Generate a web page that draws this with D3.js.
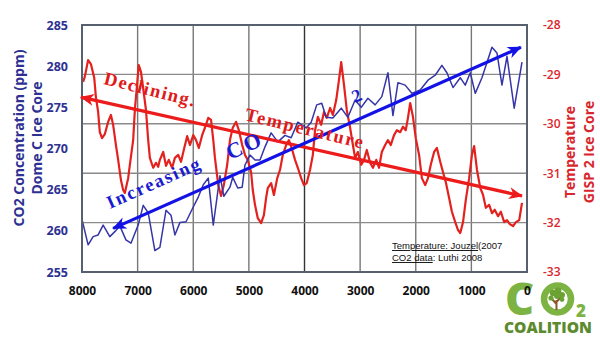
<!DOCTYPE html>
<html>
<head>
<meta charset="utf-8">
<script src="https://cdn.jsdelivr.net/npm/d3@7"></script>
<style>
  html, body { margin: 0; padding: 0; background: #fff; }
  svg { display: block; }
</style>
</head>
<body>
<svg id="chart" width="600" height="338"></svg>
<script>
// Years before present (Dome C CO2 record)
const co2Years = [8000,7890,7800,7710,7620,7500,7410,7320,7210,7120,
  6990,6900,6810,6690,6600,6490,6400,6330,6240,6130,
  6000,5910,5820,5730,5640,5520,5450,5340,5290,5200,
  5120,5070,4980,4890,4800,4710,4600,4480,4350,4240,
  4120,3970,3880,3780,3690,3610,3490,3340,3220,3090,
  2980,2860,2730,2610,2500,2410,2320,2190,2070,1920,
  1780,1650,1530,1440,1330,1200,1110,1020,930,810,
  630,540,450,360,230,90];
// CO2 concentration, ppm
const co2Values = [261.4,258.3,259.3,259.5,260.7,259.3,259.9,260.6,258.9,258.5,
  260.7,263.1,262.2,257.6,258.0,262.5,261.9,259.5,261.0,261.1,
  262.9,264.1,265.6,266.4,260.7,266.7,264.2,265.3,266.5,265.2,
  265.3,268.0,269.2,268.6,268.6,270.2,271.9,270.8,271.6,271.3,
  273.2,272.5,273.2,275.3,275.5,273.8,273.7,274.9,273.8,275.9,
  275.0,276.1,275.3,276.3,279.2,274.0,278.0,277.7,276.7,277.1,
  278.3,278.9,280.1,279.2,277.4,278.6,277.7,279.2,276.7,278.6,
  282.3,281.6,277.7,281.2,274.9,280.5];

// Years before present (GISP2 temperature record)
const tempYears = [7980,7950,7890,7840,7780,7750,7710,7680,7640,7590,
  7530,7480,7440,7390,7350,7300,7260,7230,7170,7140,
  7080,7050,7010,6980,6940,6900,6850,6810,6780,6720,
  6670,6630,6600,6540,6490,6440,6380,6330,6270,6220,
  6170,6110,6060,6000,5950,5900,5840,5790,5730,5680,
  5640,5610,5550,5500,5450,5390,5340,5290,5230,5180,
  5120,5070,5020,4960,4930,4890,4840,4780,4730,4690,
  4660,4600,4550,4490,4440,4390,4330,4280,4220,4170,
  4120,4060,4010,3960,3900,3850,3810,3760,3700,3650,
  3600,3540,3490,3430,3380,3340,3290,3240,3180,3130,
  3090,3040,2980,2930,2880,2820,2770,2710,2660,2610,
  2550,2500,2450,2390,2340,2280,2230,2180,2140,2100,
  2050,2000,1940,1890,1830,1780,1730,1670,1620,1560,
  1510,1460,1400,1350,1290,1240,1200,1150,1100,1040,
  990,950,900,840,790,740,680,630,580,520,
  470,410,360,310,250,200,140,90];
// Temperature, degrees C
const tempValues = [-29.15,-29.05,-28.71,-28.79,-29.07,-29.46,-29.76,-30.17,-30.29,-30.21,
  -29.96,-29.82,-30.02,-30.43,-30.73,-31.14,-31.34,-31.40,-31.10,-30.83,
  -30.33,-29.72,-29.21,-28.81,-28.95,-29.28,-29.72,-30.33,-30.69,-30.89,
  -30.79,-30.87,-30.73,-30.57,-30.85,-30.73,-30.89,-30.69,-30.63,-30.77,
  -30.53,-30.25,-30.43,-30.23,-30.33,-30.49,-30.23,-30.08,-29.88,-29.92,
  -30.33,-30.69,-31.24,-31.46,-31.24,-30.83,-30.33,-30.08,-29.96,-30.13,
  -30.43,-30.63,-30.73,-30.98,-31.34,-31.64,-31.91,-32.01,-31.85,-31.50,
  -31.30,-31.20,-31.44,-31.10,-30.93,-30.63,-30.43,-30.33,-30.53,-30.73,
  -30.89,-31.10,-31.24,-31.20,-30.93,-30.63,-30.13,-29.86,-30.02,-29.76,
  -29.88,-29.68,-29.82,-29.52,-29.11,-28.75,-29.21,-29.72,-30.08,-30.43,
  -30.69,-30.57,-30.83,-30.73,-30.53,-30.79,-30.89,-30.73,-30.89,-30.57,
  -30.43,-30.33,-30.43,-30.23,-30.13,-30.17,-30.06,-30.13,-29.88,-29.58,
  -29.86,-30.29,-30.63,-31.10,-31.24,-31.10,-30.83,-30.57,-30.49,-30.77,
  -30.98,-31.18,-31.50,-31.78,-31.99,-32.15,-32.21,-31.99,-31.54,-31.10,
  -30.63,-30.45,-30.93,-31.30,-31.44,-31.70,-31.64,-31.81,-31.74,-31.87,
  -31.78,-31.99,-31.95,-32.03,-32.07,-31.99,-31.95,-31.60];

// Trend arrows (start, end)
const co2TrendYears = [7440, 110];
const co2TrendValues = [260.3, 282.3];
const tempTrendYears = [8020, 90];
const tempTrendValues = [-29.46, -31.46];

// Axis ticks
const yearTicks = [8000, 7000, 6000, 5000, 4000, 3000, 2000, 1000, 0];
const co2Ticks = [255, 260, 265, 270, 275, 280, 285];
const tempTicks = [-33, -32, -31, -30, -29, -28];

const svg = d3.select("#chart");
const plotLeft = 82, plotRight = 527, plotTop = 25, plotBottom = 272;

const x = d3.scaleLinear().domain([8000, 0]).range([plotLeft, plotRight]);
const yCO2 = d3.scaleLinear().domain([255, 285]).range([plotBottom, plotTop]);
const yTemp = d3.scaleLinear().domain([-33, -28]).range([plotBottom, plotTop]);

const blueText = "#2e3192";
const redText = "#d9262c";

// ---- logo (drawn first so the "0" tick label sits on top) ----
const logo = svg.append("g").attr("class", "logo");
const lightGreen = "#7db343", darkGreen = "#5c8a2e";
logo.append("text")
  .attr("x", 505).attr("y", 315)
  .attr("font-family", "Open Sans, sans-serif").attr("font-weight", 800)
  .attr("font-size", 45).attr("fill", lightGreen)
  .text("C");
logo.append("circle")
  .attr("cx", 557.5).attr("cy", 299).attr("r", 13.5)
  .attr("fill", "none").attr("stroke", lightGreen).attr("stroke-width", 6.5);
// little tree inside the O
logo.append("path")
  .attr("d", "M556.5,310 L556.5,300 M556.5,304 L552,299 M556.5,302 L561,297")
  .attr("stroke", "#8a5a2b").attr("stroke-width", 2).attr("fill", "none");
[[553,293,3.2],[558,291,3.4],[562,295,3],[551,298,2.6],[557,296,3],[562,299.5,2.4]].forEach(([cx, cy, r]) => {
  logo.append("circle").attr("cx", cx).attr("cy", cy).attr("r", r).attr("fill", "#6aa334");
});
logo.append("text")
  .attr("x", 576).attr("y", 317)
  .attr("font-family", "Open Sans, sans-serif").attr("font-weight", 800)
  .attr("font-size", 17).attr("fill", lightGreen)
  .text("2");
logo.append("text")
  .attr("x", 504).attr("y", 333)
  .attr("font-family", "Open Sans, sans-serif").attr("font-weight", 800)
  .attr("font-size", 16.5).attr("fill", darkGreen)
  .attr("textLength", 88).attr("lengthAdjust", "spacingAndGlyphs")
  .text("COALITION");

// ---- grid ----
const grid = svg.append("g");
grid.selectAll("line.v").data(yearTicks.filter(d => d !== 8000 && d !== 0)).join("line")
  .attr("x1", d => x(d)).attr("x2", d => x(d))
  .attr("y1", plotTop).attr("y2", plotBottom)
  .attr("stroke", d => d === 4000 ? "#333" : "#777").attr("stroke-width", 1.4);
grid.selectAll("line.h").data(tempTicks.filter(d => d !== -33 && d !== -28)).join("line")
  .attr("x1", plotLeft).attr("x2", plotRight)
  .attr("y1", d => yTemp(d)).attr("y2", d => yTemp(d))
  .attr("stroke", "#8a8a8a").attr("stroke-width", 1.4);

// ---- data lines ----
const tempData = d3.zip(tempYears, tempValues);
const co2Data = d3.zip(co2Years, co2Values);

svg.append("path")
  .datum(tempData)
  .attr("fill", "none").attr("stroke", "#e3211f").attr("stroke-width", 2.2)
  .attr("stroke-linejoin", "round")
  .attr("d", d3.line().x(d => x(d[0])).y(d => yTemp(d[1])));

svg.append("path")
  .datum(co2Data)
  .attr("fill", "none").attr("stroke", "#3535a8").attr("stroke-width", 1.5)
  .attr("stroke-linejoin", "round")
  .attr("d", d3.line().x(d => x(d[0])).y(d => yCO2(d[1])));

// ---- frame ----
svg.append("rect")
  .attr("x", plotLeft).attr("y", plotTop)
  .attr("width", plotRight - plotLeft).attr("height", plotBottom - plotTop)
  .attr("fill", "none").attr("stroke", "#56606e").attr("stroke-width", 2);

// ---- trend arrows ----
const defs = svg.append("defs");
function arrowMarker(id, color) {
  defs.append("marker")
    .attr("id", id).attr("viewBox", "-14 -7 16 14")
    .attr("refX", 0).attr("refY", 0)
    .attr("markerWidth", 16).attr("markerHeight", 14)
    .attr("markerUnits", "userSpaceOnUse")
    .attr("orient", "auto-start-reverse")
    .append("path").attr("d", "M1,0 L-13,-6 L-9,0 L-13,6 Z").attr("fill", color);
}
arrowMarker("arrowBlue", "#1212e6");
arrowMarker("arrowRed", "#ec1c1c");

const tempTrend = d3.zip(tempTrendYears, tempTrendValues);
const co2Trend = d3.zip(co2TrendYears, co2TrendValues);

svg.append("path")
  .datum(tempTrend)
  .attr("fill", "none").attr("stroke", "#ec1c1c").attr("stroke-width", 3.2)
  .attr("marker-start", "url(#arrowRed)").attr("marker-end", "url(#arrowRed)")
  .attr("d", d3.line().x(d => x(d[0])).y(d => yTemp(d[1])));

svg.append("path")
  .datum(co2Trend)
  .attr("fill", "none").attr("stroke", "#1212e6").attr("stroke-width", 3.2)
  .attr("marker-start", "url(#arrowBlue)").attr("marker-end", "url(#arrowBlue)")
  .attr("d", d3.line().x(d => x(d[0])).y(d => yCO2(d[1])));

// slopes of the arrows, used to tilt their captions
const redAngle = Math.atan2(yTemp(tempTrendValues[1]) - yTemp(tempTrendValues[0]),
                            x(tempTrendYears[1]) - x(tempTrendYears[0])) * 180 / Math.PI;
const blueAngle = Math.atan2(yCO2(co2TrendValues[1]) - yCO2(co2TrendValues[0]),
                             x(co2TrendYears[1]) - x(co2TrendYears[0])) * 180 / Math.PI;

function caption(txt, px, py, angle, size, color, len) {
  const t = svg.append("text")
    .attr("transform", `translate(${px},${py}) rotate(${angle})`)
    .attr("font-family", "Liberation Serif, Times New Roman, serif")
    .attr("font-weight", "bold").attr("font-size", size)
    .attr("fill", color).text(txt);
  if (len) t.attr("textLength", len).attr("lengthAdjust", "spacing");
  return t;
}
caption("Declining.", 103, 84, redAngle + 1.5, 18.5, "#e01a1a", 93);
caption("Temperature", 244, 120, redAngle + 1, 18.5, "#e01a1a", 121);
caption("Increasing", 110, 209, blueAngle, 18.5, "#1a1ad0", 100);
caption("CO", 230, 160, blueAngle, 22, "#1a1ad0", 36);
caption("2", 355, 103, blueAngle, 18, "#1a1ad0");

// ---- axes ----
const tickFont = "Open Sans, sans-serif";

const axL = svg.append("g").attr("transform", `translate(${plotLeft},0)`)
  .call(d3.axisLeft(yCO2).tickValues(co2Ticks).tickSize(0).tickPadding(14).tickFormat(d3.format("d")));
axL.select(".domain").remove();
axL.selectAll("text").attr("font-family", tickFont).attr("font-weight", 700)
  .attr("font-size", 12.5).attr("fill", blueText);

const axR = svg.append("g").attr("transform", `translate(${plotRight},0)`)
  .call(d3.axisRight(yTemp).tickValues(tempTicks).tickSize(0).tickPadding(16).tickFormat(d => "-" + Math.abs(d)));
axR.select(".domain").remove();
axR.selectAll("text").attr("font-family", tickFont).attr("font-weight", 600)
  .attr("font-size", 12).attr("fill", redText);

const axB = svg.append("g").attr("transform", `translate(0,${plotBottom})`)
  .call(d3.axisBottom(x).tickValues(yearTicks).tickSize(0).tickPadding(14).tickFormat(d3.format("d")));
axB.select(".domain").remove();
axB.selectAll("text").attr("font-family", tickFont).attr("font-weight", 700)
  .attr("font-size", 12).attr("fill", "#111");

// ---- axis titles ----
function vTitle(lines, cx, cy, color) {
  lines.forEach(([txt, dx]) => {
    svg.append("text")
      .attr("transform", `translate(${cx + dx},${cy}) rotate(-90)`)
      .attr("text-anchor", "middle").attr("dominant-baseline", "central")
      .attr("font-family", tickFont).attr("font-weight", 700).attr("font-size", 14)
      .attr("fill", color).text(txt);
  });
}
vTitle([["CO2 Concentration (ppm)", 0], ["Dome C Ice Core", 18]], 18, 138, blueText);
vTitle([["Temperature", 0], ["GISP 2 Ice Core", 19]], 569, 152, redText);

// ---- source note ----
const note = svg.append("g").attr("font-family", "Liberation Sans, Arial, sans-serif")
  .attr("font-size", 9.5).attr("fill", "#111");
const n1 = note.append("text").attr("x", 392).attr("y", 249);
n1.append("tspan").attr("text-decoration", "underline").text("Temperature: Jouzel");
n1.append("tspan").text("(2007");
const n2 = note.append("text").attr("x", 392).attr("y", 261);
n2.append("tspan").attr("text-decoration", "underline").text("CO2 data");
n2.append("tspan").text(": Luthi 2008");
</script>
</body>
</html>
